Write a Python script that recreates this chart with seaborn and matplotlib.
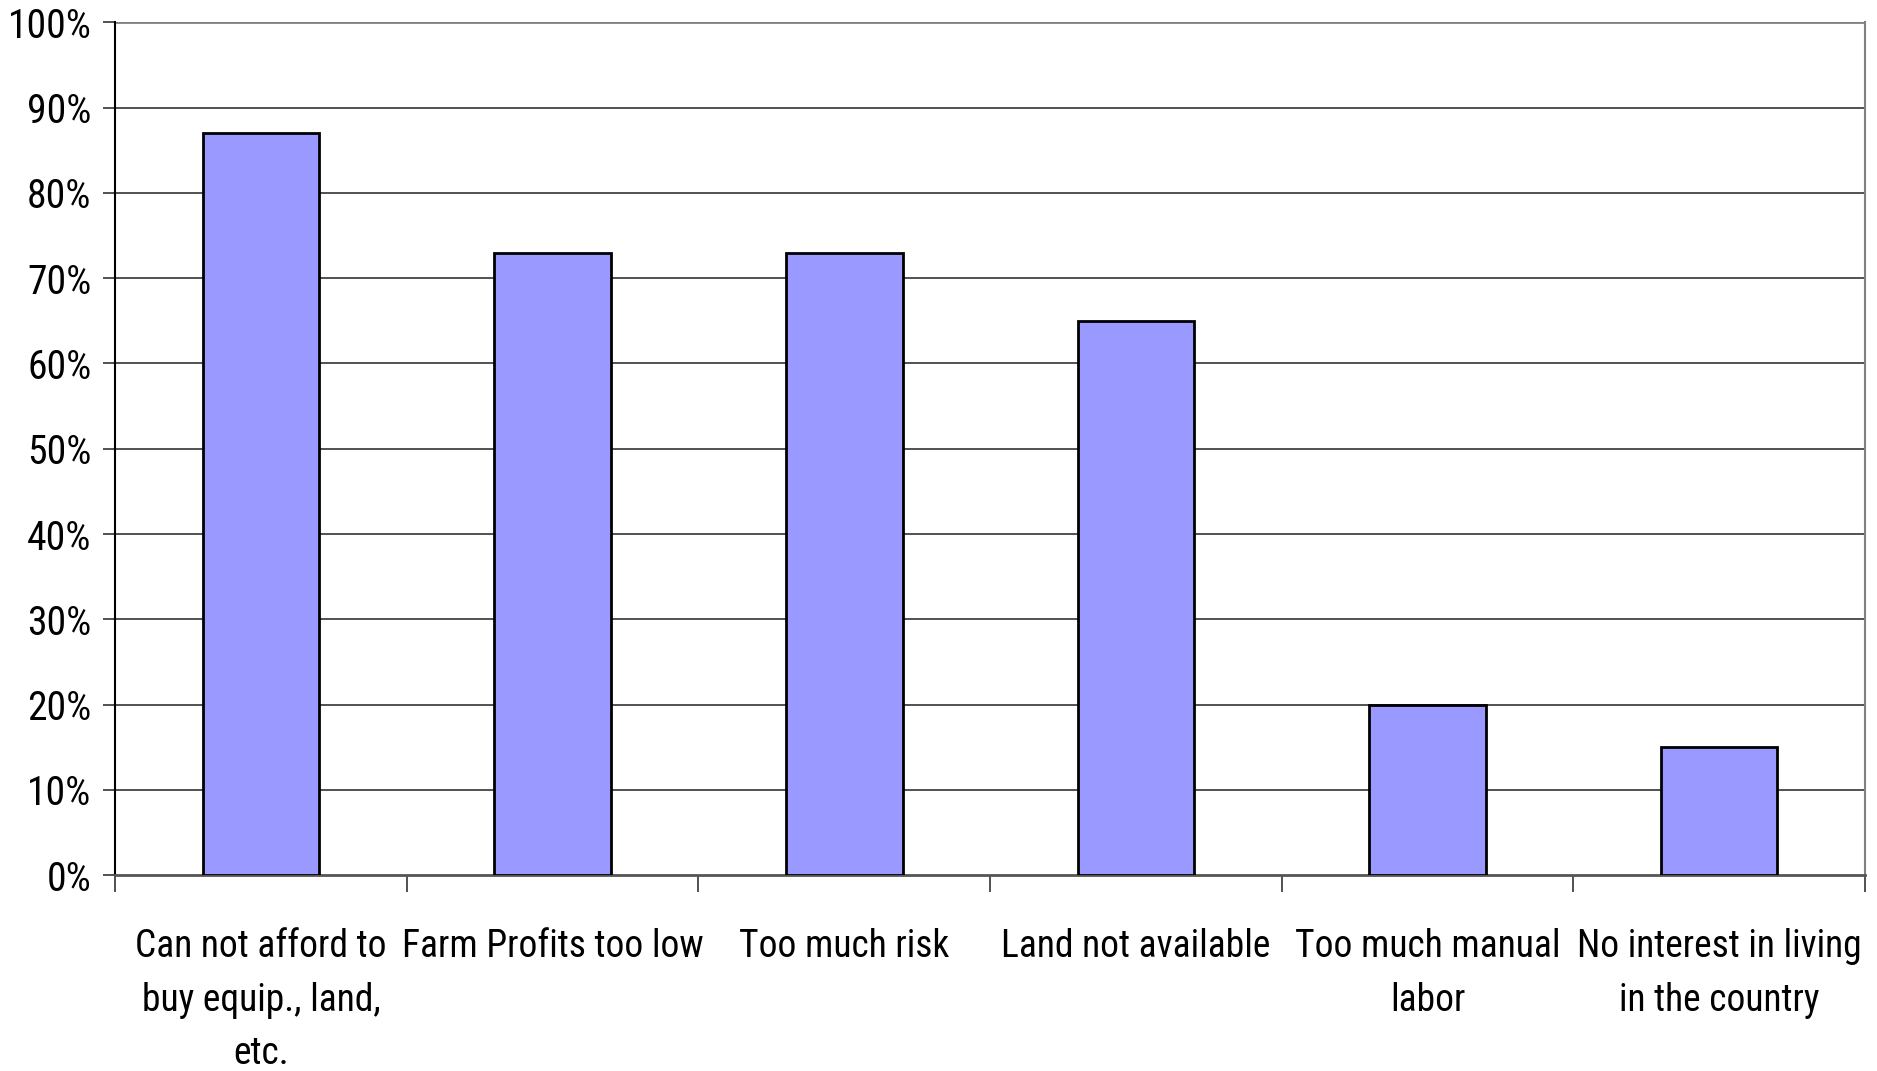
import matplotlib
matplotlib.use("Agg")
import matplotlib.pyplot as plt
import matplotlib.font_manager as fm
import seaborn as sns
import pandas as pd
import numpy as np
from matplotlib.ticker import FixedLocator, PercentFormatter

categories = [
    "Can not afford to\nbuy equip., land,\netc.",
    "Farm Profits too low",
    "Too much risk",
    "Land not available",
    "Too much manual\nlabor",
    "No interest in living\nin the country",
]
values = [87, 73, 73, 65, 20, 15]
y_ticks = [0, 10, 20, 30, 40, 50, 60, 70, 80, 90, 100]

sns.set_theme(style="white")

# look for a narrow / condensed regular font
cand = []
for f in fm.fontManager.ttflist:
    fn = f.fname.lower()
    if ("narrow" in fn or "condensed" in fn) and f.weight in (400, "normal", "regular") \
            and f.style == "normal" and "semi" not in fn and "extra" not in fn and "light" not in fn:
        cand.append(f)
pref = ["liberation", "roboto", "noto", "open", "dejavu"]
cand.sort(key=lambda f: next((i for i, p in enumerate(pref) if p in f.fname.lower()), 99))
if cand:
    fp = fm.FontProperties(fname=cand[0].fname)
    ysize, xsize = 28.5, 27
else:
    fp = fm.FontProperties(family="Liberation Sans")
    ysize, xsize = 22, 21
plt.rcParams["font.family"] = ["Liberation Sans", "DejaVu Sans"]

df = pd.DataFrame({"cat": categories, "val": values})

fig = plt.figure(figsize=(18.77, 10.71), dpi=100)
ax = fig.add_axes([0.0613, 0.183, 0.9323, 0.796])

sns.barplot(data=df, x="cat", y="val", color="#9999FF", width=0.4,
            edgecolor="black", linewidth=2, saturation=1, ax=ax, zorder=3)

ax.set_xlim(-0.5, 5.5)
ax.set_ylim(0, 100)
ax.yaxis.set_major_locator(FixedLocator(y_ticks))
ax.yaxis.set_major_formatter(PercentFormatter(decimals=0))
ax.set_xlabel("")
ax.set_ylabel("")

for t in y_ticks[1:-1]:
    ax.axhline(t, color="#333333", lw=1.2, zorder=1)
ax.axhline(100, color="#808080", lw=2, zorder=1)

ax.spines["top"].set_visible(False)
ax.spines["right"].set_color("#808080")
ax.spines["right"].set_linewidth(1.5)
ax.spines["left"].set_color("black")
ax.spines["left"].set_linewidth(1.5)
ax.spines["bottom"].set_color("#555555")
ax.spines["bottom"].set_linewidth(2)

ax.tick_params(axis="y", which="major", direction="out", length=9, width=1.2,
               color="#333333", pad=8, left=True)
ax.tick_params(axis="x", which="major", length=0, pad=38)
ax.xaxis.set_minor_locator(FixedLocator(np.arange(-0.5, 6.0, 1.0)))
ax.tick_params(axis="x", which="minor", direction="out", length=12, width=1.2,
               color="#333333", bottom=True)
for lab in ax.get_yticklabels():
    lab.set_fontproperties(fp)
    lab.set_fontsize(ysize)
    lab.set_color("black")
for lab in ax.get_xticklabels():
    lab.set_fontproperties(fp)
    lab.set_fontsize(xsize)
    lab.set_color("black")
    lab.set_linespacing(1.58)
    lab.set_ha("center")
    lab.set_va("top")
    lab.set_multialignment("center")

fig.savefig("out.png", dpi=100, facecolor="white")
